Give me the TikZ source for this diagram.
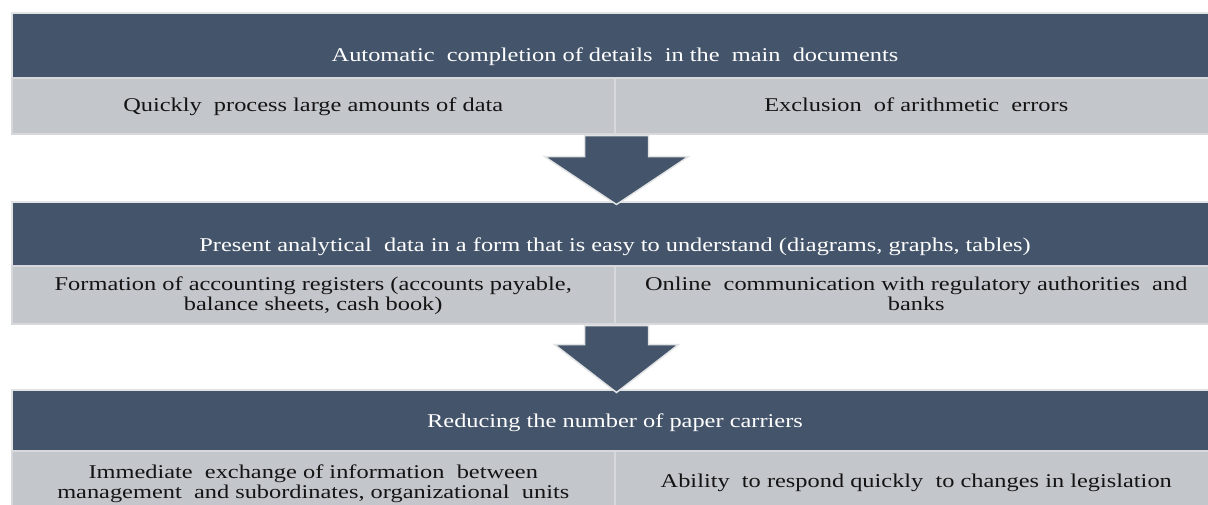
\documentclass[tikz,border=0pt]{standalone}
\usepackage{fontspec}
\setmainfont{Liberation Serif}
\usepackage{graphicx}
\usetikzlibrary{calc}
\definecolor{bandc}{RGB}{68,84,106}
\definecolor{rowc}{RGB}{195,198,203}
\definecolor{edgec}{RGB}{226,227,229}
\definecolor{divc}{RGB}{214,216,219}
\definecolor{inkc}{RGB}{20,20,20}
\newcommand{\wt}[1]{\scalebox{1.25}[1]{\begin{tabular}{@{}c@{}}#1\end{tabular}}}
\begin{document}
\begin{tikzpicture}[x=1pt,y=-1pt,
  band/.style={fill=bandc, draw=edgec, line width=2pt, inner sep=0pt, anchor=north west, minimum width=1206pt},
  cell/.style={fill=rowc, draw=divc, line width=1.5pt, inner sep=0pt, anchor=north west, minimum width=603pt},
  wtxt/.style={font=\fontsize{19.5}{19.5}\selectfont, text=white, inner sep=0pt},
  btxt/.style={font=\fontsize{19.5}{20}\selectfont, text=inkc, inner sep=0pt},
  barrow/.style={fill=bandc, draw=edgec, line width=1.5pt, line join=miter}]
\clip (0,0) rectangle (1208,504);
\fill[white] (0,0) rectangle (1208,504);
% section 1
\node[band, minimum height=65pt] (b1) at (11,12) {};
\node[cell, minimum height=56pt] (r1l) at (11,77) {};
\node[cell, minimum height=56pt] (r1r) at (614,77) {};
% section 2
\node[band, minimum height=64pt] (b2) at (11,201) {};
\node[cell, minimum height=58pt] (r2l) at (11,265) {};
\node[cell, minimum height=58pt] (r2r) at (614,265) {};
% section 3
\node[band, minimum height=61pt] (b3) at (11,389) {};
\node[cell, minimum height=60pt] (r3l) at (11,450) {};
\node[cell, minimum height=60pt] (r3r) at (614,450) {};
% texts
\node[wtxt] (t1) at ($(b1.center)+(0,12)$) {\wt{Automatic\ \ completion of details\ \ in the\ \ main\ \ documents}};
\node[btxt] (t1l) at ($(r1l.center)+(0,2)$) {\wt{Quickly\ \ process large amounts of data}};
\node[btxt] (t1r) at ($(r1r.center)+(0,2)$) {\wt{Exclusion\ \ of arithmetic\ \ errors}};
\node[wtxt] (t2) at ($(b2.center)+(0,14)$) {\wt{Present analytical\ \ data in a form that is easy to understand (diagrams, graphs, tables)}};
\node[btxt] (t2l) at ($(r2l.center)+(0,2)$) {\wt{Formation of accounting registers (accounts payable,\\balance sheets, cash book)}};
\node[btxt] (t2r) at ($(r2r.center)+(0,2)$) {\wt{Online\ \ communication with regulatory authorities\ \ and\\banks}};
\node[wtxt] (t3) at ($(b3.center)+(0,3)$) {\wt{Reducing the number of paper carriers}};
\node[btxt] (t3l) at ($(r3l.center)+(0,4)$) {\wt{Immediate\ \ exchange of information\ \ between\\management\ \ and subordinates, organizational\ \ units}};
\node[btxt] (t3r) at ($(r3r.center)+(0,3)$) {\wt{Ability\ \ to respond quickly\ \ to changes in legislation}};
% arrows
\coordinate (a1) at (r1l.south east);
\coordinate (a2) at (r2l.south east);
\draw[barrow] ($(a1)+(-31,1)$) -- ($(a1)+(33,1)$) -- ($(a1)+(33,22)$) -- ($(a1)+(73,22)$)
  -- ($(a1)+(1,70)$) -- ($(a1)+(-71,22)$) -- ($(a1)+(-31,22)$) -- cycle;
\draw[barrow] ($(a2)+(-31,1)$) -- ($(a2)+(33,1)$) -- ($(a2)+(33,20)$) -- ($(a2)+(63,20)$)
  -- ($(a2)+(1,68)$) -- ($(a2)+(-61,20)$) -- ($(a2)+(-31,20)$) -- cycle;
\end{tikzpicture}
\end{document}
